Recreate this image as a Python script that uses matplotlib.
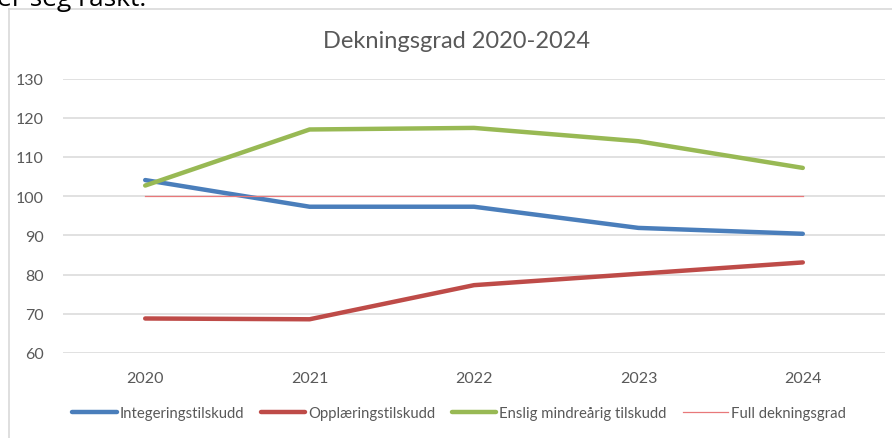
import matplotlib.pyplot as plt
from matplotlib.lines import Line2D

plt.rcParams['font.family'] = ['Lato', 'DejaVu Sans']

years = ['2020', '2021', '2022', '2023', '2024']
integrering = [104.1, 97.3, 97.3, 91.9, 90.4]
opplaering = [68.8, 68.6, 77.3, 80.2, 83.1]
enslig = [102.7, 117.0, 117.4, 114.0, 107.2]
full = [100, 100, 100, 100, 100]
yticks = [60, 70, 80, 90, 100, 110, 120, 130]

fig = plt.figure(figsize=(8.92, 4.39), dpi=100)

# grey frame of the embedded chart (only top and left edges visible)
fig.add_artist(Line2D([8.5/892, 1], [1 - 9.5/439, 1 - 9.5/439], color='#d9d9d9', lw=1.2))
fig.add_artist(Line2D([8.5/892, 8.5/892], [0, 1 - 9.5/439], color='#d9d9d9', lw=1.2))

# leftover document text cut off at the top
fig.text(-3/892, 1 - 6/439, 'er seg raskt.', fontsize=19, color='black',
         family=['Open Sans', 'DejaVu Sans'], va='baseline', ha='left')

ax = fig.add_axes([63/892, (439-354)/439, (885-63)/892, (354-79.5)/439])
x = range(len(years))
ax.plot(x, integrering, color='#4a7ebb', lw=3.2, solid_capstyle='round', label='Integeringstilskudd')
ax.plot(x, opplaering, color='#be4b48', lw=3.2, solid_capstyle='round', label='Opplæringstilskudd')
ax.plot(x, enslig, color='#98b954', lw=3.2, solid_capstyle='round', label='Enslig mindreårig tilskudd')
ax.plot(x, full, color='#e8787a', lw=0.9, label='Full dekningsgrad')

ax.set_xlim(-0.5, 4.5)
ax.set_ylim(60, 130)
ax.set_xticks(list(x))
ax.set_xticklabels(years)
ax.set_yticks(yticks)
ax.grid(axis='y', color='#d9d9d9', lw=1.1)
ax.set_axisbelow(True)
for s in ax.spines.values():
    s.set_visible(False)
ax.tick_params(length=0, labelsize=11.5, labelcolor='#595959')
ax.tick_params(axis='x', pad=13)
ax.tick_params(axis='y', pad=14)

fig.text(456/892, 1 - 42/439, 'Dekningsgrad 2020-2024', fontsize=17, color='#595959',
         ha='center', va='center')

fig.legend(loc='center', bbox_to_anchor=(459/892, 1 - 414/439), ncol=4, frameon=False,
           fontsize=10.7, labelcolor='#595959', handlelength=3.0, handletextpad=0.2,
           columnspacing=1.1)

fig.savefig('out.png', dpi=100)
